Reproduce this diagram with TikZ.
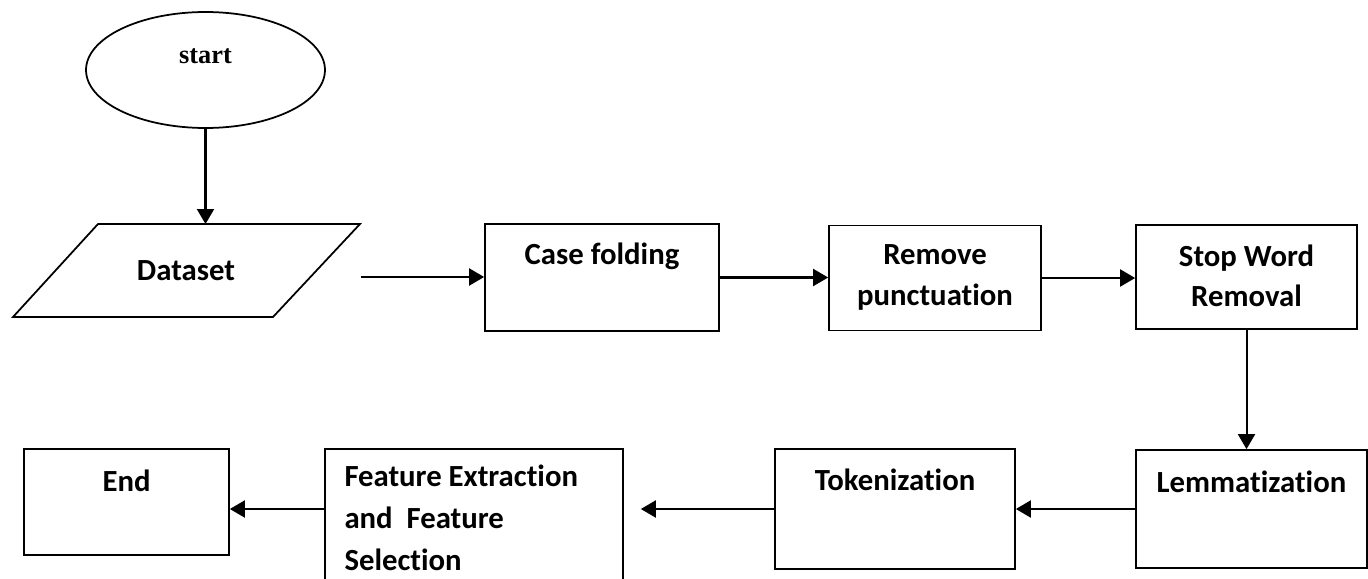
\documentclass[tikz,border=0pt]{standalone}
\usepackage{fontspec}
\setmainfont{Carlito}[Ligatures=NoCommon]
\newfontfamily\startfont{Liberation Serif}
\usetikzlibrary{arrows.meta,positioning,calc,shapes.geometric}
\tikzset{
  blk/.style={draw, line width=1pt, inner sep=0pt},
  btxt/.style={font=\fontsize{17.5}{23}\selectfont\bfseries, inner sep=0pt, align=center, anchor=north},
  flowarr/.style={-{Triangle[length=3mm,width=3.4mm]}, line width=1.15pt},
}

\begin{document}
\begin{tikzpicture}[x=0.02cm, y=-0.02cm]
  \clip (0,0) rectangle (1368,578);
  % start + dataset
  \node[blk, ellipse, minimum width=4.78cm, minimum height=2.32cm] (start) at (205.5,70) {};
  \node[anchor=base, inner sep=0pt, font=\startfont\fontsize{15}{17}\selectfont\bfseries] (starttxt) at (205.5,63) {start};
  \draw[line width=1pt] (98,224) -- (360,224) -- (273,317) -- (13,317) -- cycle;
  \node[btxt, anchor=base] (dataset) at (186,280) {Dataset};
  \coordinate (dtop) at (208,224);
  \coordinate (dout) at (361,277);

  % upper row
  \node[blk, minimum width=4.68cm, minimum height=2.14cm] (case) at (602,277.5) {};
  \node[blk, minimum width=4.24cm, minimum height=2.1cm] (punct) at (935,278) {};
  \node[blk, minimum width=4.42cm, minimum height=2.08cm] (stopw) at (1246.5,277) {};
  \node[btxt] (casetxt) at ($(case.north)+(0,19)$) {Case folding};
  \node[btxt] (puncttxt) at ($(punct.north)+(0,20)$) {Remove\\punctuation};
  \node[btxt] (stopwtxt) at ($(stopw.north)+(0,20)$) {Stop Word\\Removal};

  % lower row
  \node[blk, minimum width=4.62cm, minimum height=2.36cm] (lemma) at (1251.5,509) {};
  \node[blk, minimum width=4.8cm, minimum height=2.4cm] (token) at (895,509) {};
  \node[blk, minimum width=5.96cm, minimum height=3.02cm] (feat) at (474,524.5) {};
  \node[blk, minimum width=4.1cm, minimum height=2.12cm] (endb) at (126.5,502) {};
  \node[btxt] (lemmatxt) at ($(lemma.north)+(0,21)$) {Lemmatization};
  \node[btxt] (tokentxt) at ($(token.north)+(0,20)$) {Tokenization};
  \node[btxt, align=left, anchor=north west, font=\fontsize{17.5}{24}\selectfont\bfseries] (feattxt)
       at ($(feat.north west)+(20,16)$) {Feature Extraction\\and\ \ Feature\\Selection};
  \node[btxt] (endtxt) at ($(endb.north)+(0,21)$) {End};
  \coordinate (ftip) at ($(feat.east |- token.west)+(17,0)$);

  % connectors
  \draw[flowarr] (start.south) -- (start.south |- dtop);
  \draw[flowarr] (dout) -- (dout -| case.west);
  \draw[flowarr] (case.east) -- (case.east -| punct.west);
  \draw[flowarr] (punct.east) -- (punct.east -| stopw.west);
  \draw[flowarr] (stopw.south) -- (stopw.south |- lemma.north);
  \draw[flowarr] (lemma.west) -- (token.east);
  \draw[flowarr] (token.west) -- (ftip);
  \draw[flowarr] (feat.west |- token.west) -- (endb.east |- token.west);
\end{tikzpicture}
\end{document}
